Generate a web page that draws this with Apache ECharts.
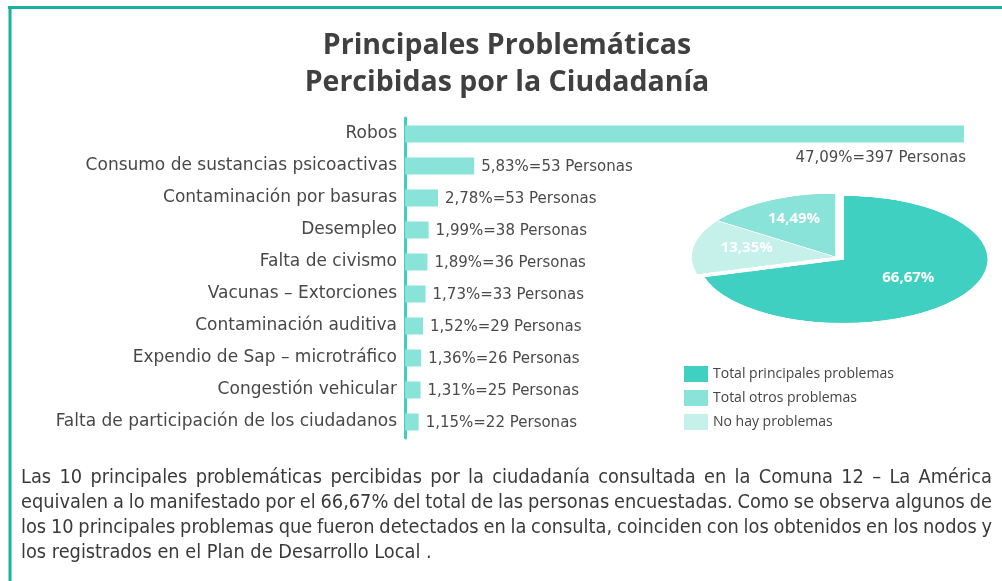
<!DOCTYPE html>
<html>
<head>
<meta charset="utf-8">
<script src="https://cdn.jsdelivr.net/npm/echarts@6/dist/echarts.min.js"></script>
<style>
  html, body { margin: 0; padding: 0; background: #fff; }
  #chart { position: relative; z-index: 2; width: 1002px; height: 581px; }
  #pie {
    position: absolute; z-index: 1; left: 671px; top: 92px; width: 330px; height: 330px;
    transform: scaleY(0.44); transform-origin: 50% 50%; pointer-events: none;
  }
</style>
</head>
<body>
<div id="chart"></div>
<div id="pie"></div>
<script>
const categories = [
  "Robos",
  "Consumo de sustancias psicoactivas",
  "Contaminación por basuras",
  "Desempleo",
  "Falta de civismo",
  "Vacunas – Extorciones",
  "Contaminación auditiva",
  "Expendio de Sap – microtráfico",
  "Congestión vehicular",
  "Falta de participación de los ciudadanos",
];
const percents = [47.09, 5.83, 2.78, 1.99, 1.89, 1.73, 1.52, 1.36, 1.31, 1.15];
const persons = [397, 53, 53, 38, 36, 33, 29, 26, 25, 22];

// pie, clockwise from the top
const pieNames = ["Total principales problemas", "No hay problemas", "Total otros problemas"];
const pieValues = [66.67, 13.35, 14.49];
const pieColors = ["#3fd0c1", "#c6f0ea", "#8ae3d9"];
const legendNames = ["Total principales problemas", "Total otros problemas", "No hay problemas"];

const paragraphLines = [
  "Las 10 principales problemáticas percibidas por la ciudadanía consultada en la Comuna 12 – La América",
  "equivalen a lo manifestado por el 66,67% del total de las personas encuestadas. Como se observa algunos de",
  "los 10 principales problemas que fueron detectados en la consulta, coinciden con los obtenidos en los nodos y",
  "los registrados en el Plan de Desarrollo Local .",
];

const teal = "#17b39d";
const font = '"DejaVu Sans", sans-serif';
const pieCenter = [836, 254];
const pieRadius = 145;
const squash = 0.44;
const fmt = (v) => v.toFixed(2).replace(".", ",");

// justified paragraph, one text element per word
const paraFont = '19.8px "DejaVu Sans Condensed", sans-serif';
const measureCtx = document.createElement("canvas").getContext("2d");
measureCtx.font = paraFont;
const paraLeft = 21, paraWidth = 971, paraTop = 478, paraLineHeight = 25;
const paragraph = [];
paragraphLines.forEach((line, li) => {
  const words = line.split(" ");
  const widths = words.map((w) => measureCtx.measureText(w).width);
  const total = widths.reduce((a, b) => a + b, 0);
  const last = li === paragraphLines.length - 1;
  const gap = last ? measureCtx.measureText(" ").width : (paraWidth - total) / (words.length - 1);
  let x = paraLeft;
  words.forEach((w, i) => {
    paragraph.push({
      type: "text",
      x: x,
      y: paraTop + li * paraLineHeight,
      style: { text: w, font: paraFont, fill: "#3a3a3a", verticalAlign: "middle" },
    });
    x += widths[i] + gap;
  });
});

const chart = echarts.init(document.getElementById("chart"));
chart.setOption({
  animation: false,
  graphic: [
    { type: "line", shape: { x1: 8, y1: 7.5, x2: 1002, y2: 7.5 }, style: { stroke: teal, lineWidth: 3 } },
    { type: "line", shape: { x1: 10, y1: 6, x2: 10, y2: 581 }, style: { stroke: teal, lineWidth: 3 } },
    {
      type: "text",
      x: 507,
      y: 27,
      style: {
        text: "Principales Problemáticas\nPercibidas por la Ciudadanía",
        font: 'bold 28.5px "Open Sans", sans-serif',
        fill: "#404040",
        align: "center",
        lineHeight: 37,
      },
    },
    ...paragraph,
  ],
  legend: {
    orient: "vertical",
    left: 684,
    top: 366,
    padding: 0,
    itemWidth: 24,
    itemHeight: 16,
    itemGap: 8,
    icon: "rect",
    selectedMode: false,
    textStyle: { fontSize: 14, color: "#444", fontFamily: '"Open Sans", sans-serif' },
    data: legendNames.map((n) => ({
      name: n,
      itemStyle: { color: pieColors[pieNames.indexOf(n)], opacity: 1 },
    })),
  },
  grid: { left: 405, right: 38, top: 118, bottom: 143 },
  xAxis: { type: "value", show: false, min: 0, max: Math.max(...percents) },
  yAxis: {
    type: "category",
    inverse: true,
    data: categories,
    axisLine: { lineStyle: { color: "#3ecfbf", width: 3 } },
    axisTick: { show: false },
    axisLabel: { fontSize: 17, color: "#484848", margin: 8, fontFamily: font },
  },
  series: [
    {
      type: "bar",
      barWidth: 17,
      itemStyle: { color: "#8ae3d9" },
      label: {
        show: true,
        position: "right",
        distance: 7,
        offset: [0, 1],
        fontSize: 15,
        color: "#4a4a4a",
        fontFamily: font,
        formatter: (p) => fmt(p.value) + "%=" + persons[p.dataIndex] + " Personas",
      },
      data: percents.map((v, i) =>
        i === 0
          ? { value: v, label: { position: ["100%", "100%"], align: "right", verticalAlign: "top", offset: [2, 8] } }
          : v
      ),
    },
    {
      // transparent copy of the pie: carries the labels and the legend
      type: "pie",
      center: pieCenter,
      radius: [30, pieRadius],
      startAngle: 90,
      silent: true,
      itemStyle: { color: "rgba(0,0,0,0)" },
      label: {
        show: true,
        position: "inside",
        formatter: (p) => fmt(p.value) + "%",
        color: "#fff",
        fontSize: 15,
        fontWeight: "bold",
        fontFamily: '"Open Sans", sans-serif',
      },
      labelLine: { show: false },
      labelLayout: (params) => {
        const r = params.labelRect;
        return {
          x: r.x + r.width / 2,
          y: pieCenter[1] + (r.y + r.height / 2 - pieCenter[1]) * squash,
          align: "center",
          verticalAlign: "middle",
        };
      },
      data: pieNames.map((n, i) => ({ name: n, value: pieValues[i] })),
    },
  ],
});

// the visible pie, squashed into an ellipse by CSS
const pie = echarts.init(document.getElementById("pie"));
pie.setOption({
  animation: false,
  series: [
    {
      type: "pie",
      center: ["50%", "50%"],
      radius: pieRadius,
      startAngle: 90,
      selectedMode: "single",
      selectedOffset: 9,
      silent: true,
      label: { show: false },
      labelLine: { show: false },
      itemStyle: { borderColor: "#fff", borderWidth: 1.5 },
      data: pieNames.map((n, i) => ({
        name: n,
        value: pieValues[i],
        selected: i === 0,
        itemStyle: { color: pieColors[i] },
      })),
    },
  ],
});
</script>
</body>
</html>
